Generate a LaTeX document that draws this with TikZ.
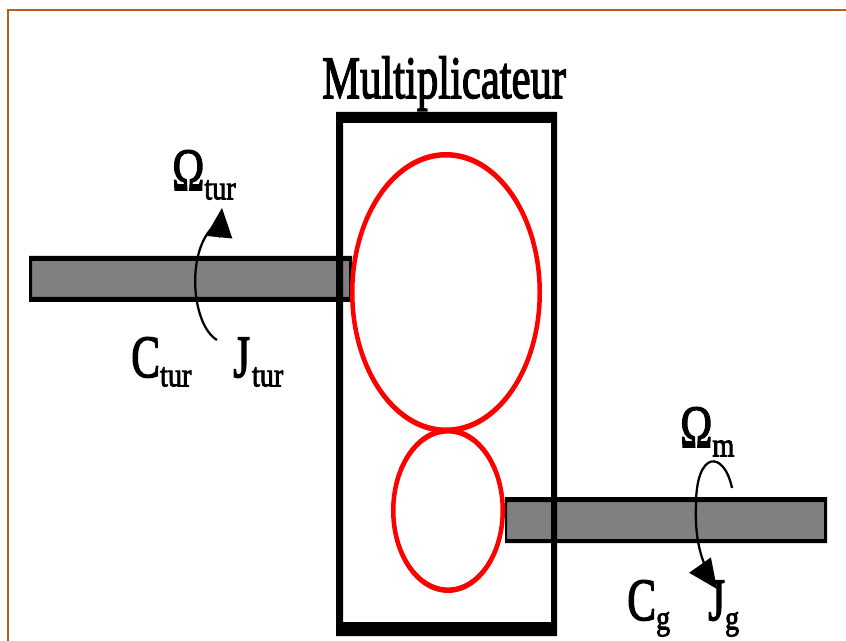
\documentclass[tikz,border=0pt]{standalone}
\usepackage{fontspec}
\setmainfont[FakeBold=2.6]{Liberation Serif}
\usetikzlibrary{arrows.meta}
\definecolor{cadre}{RGB}{181,96,28}
\newcommand{\grand}[2]{\scalebox{.72}[1]{\fontsize{45}{45}\selectfont #1}\raisebox{-7pt}{\scalebox{.92}[1.1]{\fontsize{23}{23}\selectfont #2}}}
\tikzset{
  contour/.style={fill=black,even odd rule},
  rotation/.style={draw=black,line width=1.7pt},
  pointe/.style={-{Triangle[length=22pt,width=20pt]},draw=black,line width=0pt},
  label/.style={inner sep=0pt,anchor=base west}
}
\begin{document}
\begin{tikzpicture}[x=0.75pt,y=-0.75pt]
  \useasboundingbox (0,0) rectangle (846,641);
  \fill[white] (0,0) rectangle (846,641);
  \draw[cadre,line width=2pt] (8,641) -- (8,10) -- (846,10);

  \fill[gray] (32,261) rectangle (349,297);
  \fill[contour] (29,256) rectangle (352,302) (32,261) rectangle (349,297);
  \fill[gray] (507,502) rectangle (824,539);
  \fill[contour] (505,497) rectangle (827,543) (507,502) rectangle (824,539);

  \fill[contour] (336,112) rectangle (557,636) (343,123) rectangle (551,622);

  \fill[red,even odd rule] (446,292.5) ellipse (96 and 140.5) (446,292.5) ellipse (91.5 and 135);
  \fill[red,even odd rule] (448,510.5) ellipse (57 and 82.5) (448,510.5) ellipse (52.5 and 77);

  \node[label] (titre) at (322,98) {\scalebox{.71}[1]{\fontsize{45}{45}\selectfont Multiplicateur}};
  \node[label] (omegatur) at (172,190) {\grand{Ω}{tur}};
  \node[label] (ctur) at (131,377) {\grand{C}{tur}};
  \node[label] (jtur) at (233,377) {\grand{J\kern2pt}{tur}};
  \node[label] (omegam) at (680,447) {\grand{Ω}{m}};
  \node[label] (cg) at (627,620) {\grand{C}{g}};
  \node[label] (jg) at (708,620) {\grand{J}{g}};

  \coordinate (a) at (217,340);
  \coordinate (b) at (212,228);
  \coordinate (c) at (219,238);
  \coordinate (d) at (222,208);
  \draw[rotation] (a) .. controls (192,325) and (186,255) .. (b);
  \draw[pointe] (c) -- (d);

  \coordinate (e) at (732,488);
  \coordinate (f) at (706,568);
  \coordinate (g) at (700,565);
  \coordinate (h) at (717,589);
  \draw[rotation] (e) .. controls (724,450) and (696,450) .. (696,505) .. controls (695,530) and (698,550) .. (f);
  \draw[pointe] (g) -- (h);
\end{tikzpicture}
\end{document}
